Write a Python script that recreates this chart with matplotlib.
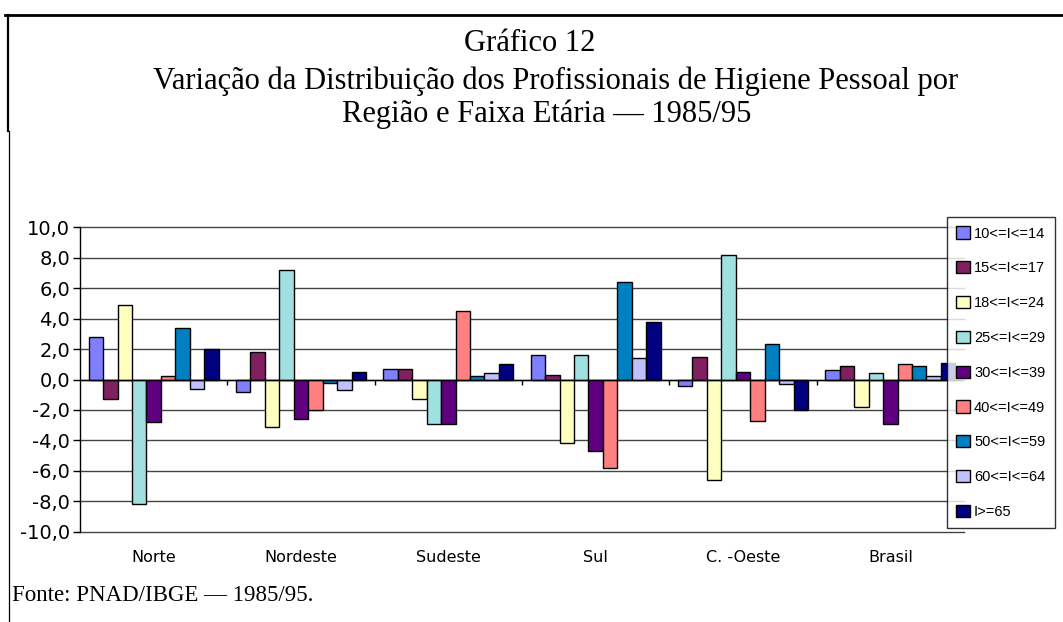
import matplotlib
matplotlib.use("Agg")
import matplotlib.pyplot as plt
from matplotlib.lines import Line2D
import matplotlib.transforms as mtransforms
import numpy as np

regions = ["Norte", "Nordeste", "Sudeste", "Sul", "C. -Oeste", "Brasil"]
age_groups = ["10<=I<=14", "15<=I<=17", "18<=I<=24", "25<=I<=29", "30<=I<=39",
              "40<=I<=49", "50<=I<=59", "60<=I<=64", "I>=65"]

v_10_14 = [2.8, -0.8, 0.7, 1.6, -0.4, 0.6]
v_15_17 = [-1.3, 1.8, 0.7, 0.3, 1.5, 0.9]
v_18_24 = [4.9, -3.1, -1.3, -4.2, -6.6, -1.8]
v_25_29 = [-8.2, 7.2, -2.9, 1.6, 8.2, 0.4]
v_30_39 = [-2.8, -2.6, -2.9, -4.7, 0.5, -2.9]
v_40_49 = [0.2, -2.0, 4.5, -5.8, -2.7, 1.0]
v_50_59 = [3.4, -0.2, 0.2, 6.4, 2.3, 0.9]
v_60_64 = [-0.6, -0.7, 0.4, 1.4, -0.3, 0.2]
v_65 = [2.0, 0.5, 1.0, 3.8, -2.0, 1.1]

series = [v_10_14, v_15_17, v_18_24, v_25_29, v_30_39, v_40_49, v_50_59, v_60_64, v_65]
colors = ["#8080FF", "#802060", "#FFFFC0", "#A0E0E0", "#600080",
          "#FF8080", "#0080C0", "#C0C0FF", "#000080"]

yticks = [-10, -8, -6, -4, -2, 0, 2, 4, 6, 8, 10]

W, H = 1063, 622
fig = plt.figure(figsize=(W / 100, H / 100), dpi=100)
fig.patch.set_facecolor("white")

ax = fig.add_axes([80 / W, 1 - 531.7 / H, (964 - 80) / W, (531.7 - 227.3) / H])
ax.set_xlim(0, len(regions))
ax.set_ylim(-10, 10)

x = np.arange(len(regions)) + 0.5
bw = 0.098
n = len(series)
handles = []
for i, (vals, c) in enumerate(zip(series, colors)):
    offs = (i - (n - 1) / 2) * bw
    b = ax.bar(x + offs, vals, width=bw, color=c, edgecolor="black",
               linewidth=1.0, zorder=3, label=age_groups[i])
    handles.append(b)

# grid
ax.set_yticks(yticks)
ax.set_yticklabels([f"{t:.1f}".replace(".", ",") for t in yticks],
                   fontsize=14, family="DejaVu Sans")
for t in yticks:
    ax.axhline(t, color="#444444", linewidth=1.0, zorder=1, clip_on=False)
ax.axhline(0, color="black", linewidth=1.0, zorder=4)

for s in ["top", "right", "bottom"]:
    ax.spines[s].set_visible(False)
ax.spines["left"].set_color("black")
ax.spines["left"].set_linewidth(1.0)
ax.tick_params(axis="y", direction="out", length=5, width=1, pad=2)

# category boundary ticks at zero line
ax.set_xticks(np.arange(0, len(regions) + 1))
ax.set_xticklabels([])
ax.tick_params(axis="x", length=0)
trans = mtransforms.blended_transform_factory(ax.transData, ax.transAxes)
bx = np.arange(1, len(regions))
ax.vlines(bx, -0.35, 0, color="black", linewidth=1.0, zorder=4)
for xi, lab in zip(x, regions):
    ax.text(xi, -0.085, lab, transform=trans, ha="center", va="center",
            fontsize=11.5, family="DejaVu Sans")

# legend box
leg = fig.legend(handles=handles, labels=age_groups,
                 loc="upper left", bbox_to_anchor=(947 / W, 1 - 217 / H),
                 frameon=True, fancybox=False, edgecolor="black",
                 prop={"family": "Liberation Sans", "size": 10.5},
                 handlelength=0.9, handleheight=0.9, handletextpad=0.3,
                 labelspacing=1.42, borderpad=0.65, borderaxespad=0)
leg.get_frame().set_linewidth(1.0)
leg.set_zorder(10)

# titles
tfont = dict(family="Liberation Serif", fontsize=22, ha="center", va="baseline")
fig.text(530 / W, 1 - 51 / H, "Gráfico 12", **tfont)
fig.text(556 / W, 1 - 89 / H,
         "Variação da Distribuição dos Profissionais de Higiene Pessoal por", **tfont)
fig.text(547 / W, 1 - 122 / H, "Região e Faixa Etária — 1985/95", **tfont)

fig.text(12 / W, 1 - 601 / H, "Fonte: PNAD/IBGE — 1985/95.",
         family="Liberation Serif", fontsize=16.5, ha="left", va="baseline")

# frame lines
fig.add_artist(Line2D([5 / W, 1.0], [1 - 14.5 / H, 1 - 14.5 / H],
                      transform=fig.transFigure, color="black", linewidth=2.0))
fig.add_artist(Line2D([8.3 / W, 8.3 / W], [1 - 14.5 / H, 1 - 131 / H],
                      transform=fig.transFigure, color="black", linewidth=1.6))
fig.add_artist(Line2D([8.5 / W, 8.5 / W], [1 - 131 / H, 0],
                      transform=fig.transFigure, color="black", linewidth=0.9))

fig.savefig("out.png", dpi=100, facecolor="white")
